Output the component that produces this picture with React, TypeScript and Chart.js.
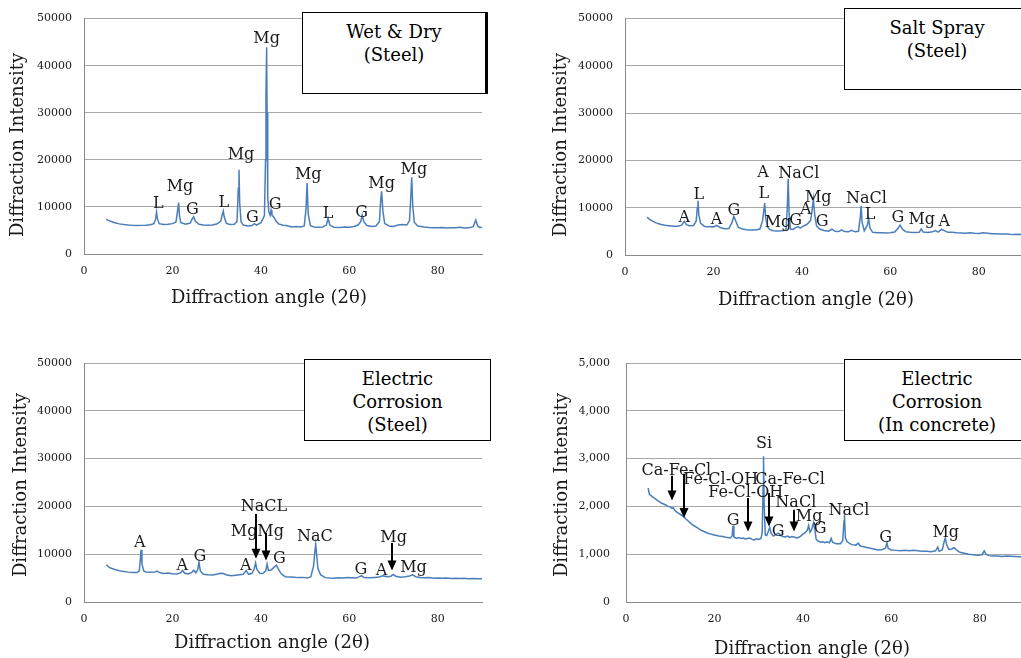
import React, { useEffect, useRef } from 'react';
import { Chart, registerables } from 'chart.js';

Chart.register(...registerables);

// ---------- tick labels ----------
const xTickLabels = ['0', '20', '40', '60', '80'];
const yTickLabelsSteel = ['0', '10000', '20000', '30000', '40000', '50000'];
const yTickLabelsConcrete = ['0', '1,000', '2,000', '3,000', '4,000', '5,000'];

// ---------- series: [angle 2θ, intensity] ----------
const wetDrySeries = [
  [5, 7400], [5.5, 7150], [6, 6950], [7, 6650], [8, 6400], [9, 6250], [10, 6150], [11, 6080], [12, 6050], [13, 6080],
  [14, 6120], [15, 6200], [15.8, 6450], [16.2, 7400], [16.4, 8900], [16.6, 7500], [17, 6450], [18, 6250], [19, 6300], [20, 6450],
  [20.8, 6800], [21.2, 9500], [21.4, 10900], [21.6, 8000], [21.9, 6650], [23, 6350], [24, 6550], [24.5, 7500], [24.8, 7900], [25.2, 6950],
  [26, 6300], [27, 6150], [28, 6100], [29, 6150], [30, 6350], [30.9, 6950], [31.3, 8500], [31.5, 9100], [31.7, 7900], [32.2, 6500],
  [33, 6250], [34, 6300], [34.6, 6900], [34.9, 14000], [35.05, 17900], [35.2, 11000], [35.5, 6900], [36, 6150], [37, 5950], [38, 6050],
  [38.5, 6450], [39, 6150], [40, 6650], [40.5, 7500], [40.8, 8200], [41.05, 20000], [41.15, 34000], [41.3, 43900], [41.4, 30000], [41.55, 12000],
  [41.8, 9000], [42.1, 8200], [42.3, 9300], [42.5, 8300], [43, 7700], [43.5, 6900], [44, 6400], [45, 6100], [46, 6000], [47, 5750],
  [48, 5850], [49, 5750], [49.8, 5950], [50.2, 9500], [50.45, 15100], [50.7, 8500], [51.2, 6000], [52, 5750], [53, 5700], [54, 5750],
  [54.8, 6150], [55.2, 7550], [55.6, 6150], [56.5, 5700], [58, 5650], [59, 5750], [60, 5700], [61, 5850], [62, 6150], [62.6, 6900],
  [62.9, 8250], [63.3, 6800], [64, 6050], [65, 5850], [66, 5950], [66.8, 6850], [67.1, 11500], [67.3, 13300], [67.6, 9000], [68, 6450],
  [69, 5950], [70, 5850], [71, 6150], [72, 6250], [73, 6150], [73.6, 7100], [73.9, 12000], [74.1, 16300], [74.35, 10000], [74.7, 6700],
  [75.5, 5950], [77, 5750], [78, 5650], [79, 5600], [80, 5550], [81, 5650], [82, 5500], [83, 5550], [84, 5600], [85, 5700],
  [86, 5500], [87, 5550], [88, 5800], [88.6, 7200], [89, 6000], [89.5, 5600], [90, 5750],
];

const saltSpraySeries = [
  [5, 8000], [5.5, 7600], [6, 7250], [7, 6800], [8, 6500], [9, 6300], [10, 6200], [11, 6100], [12, 6100], [12.8, 6300],
  [13.4, 7100], [13.9, 6400], [14.5, 6200], [15.5, 6250], [16.1, 7200], [16.35, 10000], [16.5, 11500], [16.7, 8500], [17.1, 6700], [18, 6050],
  [19, 6000], [20, 5950], [20.7, 6250], [21.5, 5800], [22.5, 5550], [23.5, 5600], [24.2, 6900], [24.6, 8200], [25, 7300], [25.6, 5900],
  [26.5, 5500], [27.5, 5350], [28.5, 5280], [29.5, 5300], [30.5, 5500], [31.1, 7200], [31.4, 9500], [31.6, 11000], [31.8, 8000], [32.2, 6000],
  [32.7, 5400], [33.5, 5150], [34.5, 5100], [35.5, 5150], [36.4, 5250], [36.7, 10000], [36.9, 16100], [37.1, 9000], [37.4, 5500], [38, 5400],
  [38.6, 5800], [39.1, 6000], [39.6, 5700], [40.3, 6100], [41, 6400], [41.6, 6900], [42, 7400], [42.3, 9500], [42.6, 11800], [42.9, 8500],
  [43.3, 6200], [44, 5500], [45, 5200], [46, 5050], [46.8, 5450], [47.5, 5000], [48.3, 4950], [49, 5300], [49.6, 4950], [50.5, 4900],
  [51.2, 5200], [52, 4900], [52.8, 5000], [53.2, 8000], [53.4, 10400], [53.6, 7000], [54.1, 5100], [54.8, 6300], [55.1, 7700], [55.4, 5700],
  [56, 4800], [57, 4700], [58, 4720], [59, 4650], [60, 4700], [61, 4850], [61.8, 5700], [62.2, 6300], [62.8, 5400], [63.5, 4900],
  [64.5, 4800], [65.5, 4750], [66.5, 4800], [67, 5500], [67.4, 4850], [68.5, 4750], [69.5, 4900], [70.2, 5150], [70.8, 4850], [71.6, 5400],
  [72.3, 5100], [73, 4800], [74, 4800], [75, 4700], [76, 4650], [77, 4600], [78, 4700], [79, 4600], [80, 4550], [81, 4700],
  [82, 4600], [83, 4500], [84, 4480], [85, 4420], [86, 4450], [87, 4380], [88, 4350], [89, 4400], [90, 4350],
];

const electricSteelSeries = [
  [5, 7800], [5.5, 7400], [6, 7100], [7, 6800], [8, 6550], [9, 6400], [10, 6250], [11, 6150], [12, 6150], [12.5, 6500],
  [12.75, 9000], [12.9, 10900], [13.1, 8000], [13.5, 6500], [14, 6250], [15, 6200], [16, 6250], [16.5, 6450], [17.2, 6100], [18, 5950],
  [19, 6050], [20, 5900], [21, 5850], [21.8, 6100], [22.3, 6600], [22.8, 6000], [23.6, 5850], [24.4, 6200], [24.8, 6650], [25.3, 6100],
  [25.7, 6800], [26, 8300], [26.3, 6500], [27, 5800], [28, 5700], [29, 5650], [30, 5800], [30.8, 6000], [31.5, 5950], [32.3, 5650],
  [33.3, 5500], [34.3, 5600], [35.2, 5700], [36, 5800], [36.7, 6600], [37.2, 5800], [38, 6000], [38.5, 7000], [38.8, 8150], [39.1, 6800],
  [39.8, 5950], [40.5, 6000], [41.1, 6500], [41.4, 7950], [41.7, 6600], [42.3, 6700], [42.9, 7200], [43.5, 7700], [44, 6800], [44.6, 5900],
  [45.5, 5300], [46.5, 5250], [47.5, 5200], [48.5, 5100], [49.5, 5150], [50.5, 5000], [51.3, 5300], [51.9, 7500], [52.2, 10500], [52.4, 12100],
  [52.6, 10000], [52.9, 7000], [53.5, 5700], [54.5, 5100], [55.5, 5000], [56.5, 4950], [57.5, 5050], [58.5, 5000], [59.5, 5100], [60.5, 5050],
  [61.5, 5000], [62.3, 5300], [62.8, 5500], [63.3, 5100], [64.5, 5050], [65.7, 5150], [66.7, 5250], [67.6, 5500], [68.5, 5300], [69.4, 5400],
  [69.9, 5750], [70.5, 5400], [71.6, 5200], [72.6, 5300], [73.6, 5450], [74.3, 5700], [75, 5300], [76, 5150], [77, 5050], [78, 5100],
  [79, 4950], [80, 5000], [81, 4950], [82, 5000], [83, 4900], [84, 4950], [85, 4900], [86, 4950], [87, 4850], [88, 4900],
  [89, 4850], [90, 4880],
];

const electricConcreteSeries = [
  [5, 2385], [5.3, 2250], [5.6, 2230], [6, 2200], [6.5, 2170], [7, 2130], [7.5, 2100], [8, 2070], [8.5, 2050], [9, 2030],
  [9.5, 2000], [10, 1990], [10.4, 1960], [10.7, 1970], [11, 1920], [11.5, 1880], [12, 1850], [12.5, 1820], [13, 1790], [13.5, 1740],
  [14, 1700], [14.5, 1660], [15, 1620], [15.5, 1590], [16, 1560], [16.5, 1530], [17, 1500], [17.5, 1480], [18, 1460], [18.5, 1440],
  [19, 1430], [19.5, 1410], [20, 1400], [21, 1380], [22, 1370], [22.5, 1355], [23, 1350], [23.6, 1340], [24, 1380], [24.2, 1600],
  [24.4, 1360], [25, 1330], [25.5, 1350], [26, 1330], [26.5, 1340], [27, 1320], [27.5, 1330], [28, 1340], [28.5, 1310], [29, 1300],
  [29.5, 1320], [30, 1310], [30.5, 1330], [30.8, 1450], [31, 2400], [31.1, 3050], [31.25, 2000], [31.5, 1400], [31.8, 1390], [32.2, 1480],
  [32.5, 1560], [32.8, 1440], [33.3, 1380], [34, 1420], [34.5, 1440], [35, 1390], [35.5, 1370], [36, 1360], [36.5, 1380], [37, 1350],
  [37.5, 1370], [38, 1360], [38.5, 1340], [39, 1350], [39.5, 1380], [40, 1420], [40.5, 1450], [41, 1500], [41.3, 1600], [41.6, 1460],
  [42, 1520], [42.4, 1660], [42.7, 1520], [43, 1310], [43.5, 1270], [44, 1250], [44.5, 1260], [45, 1240], [45.5, 1260], [46, 1240],
  [46.4, 1330], [46.7, 1250], [47.5, 1220], [48.5, 1220], [49, 1280], [49.3, 1700], [49.4, 1830], [49.6, 1350], [50, 1260], [51, 1200],
  [52, 1190], [52.5, 1230], [53, 1170], [54, 1150], [55, 1130], [56, 1110], [57, 1090], [58, 1100], [58.7, 1130], [59, 1240],
  [59.3, 1120], [60, 1090], [61, 1080], [62, 1070], [63, 1080], [64, 1070], [65, 1080], [66, 1070], [67, 1060], [68, 1060],
  [69, 1050], [70, 1070], [70.5, 1150], [70.8, 1060], [71.5, 1090], [72, 1280], [72.2, 1340], [72.5, 1200], [73, 1100], [73.7, 1110],
  [74.2, 1140], [74.7, 1090], [75.5, 1040], [76.5, 1020], [77.5, 1000], [78.5, 990], [79.5, 980], [80.5, 990], [81, 1070], [81.4, 1000],
  [82, 970], [83, 960], [84, 960], [85, 950], [86, 960], [87, 955], [88, 950], [89, 945], [90, 940],
];

// ---------- peak labels: [text, angle, intensity] ----------
const wetDryPeakLabels: [string, number, number][] = [
  ['Mg', 41.3, 45650], ['Mg', 35.5, 20980], ['Mg', 21.7, 14180], ['L', 16.8, 10550], ['G', 24.5, 9440],
  ['L', 31.6, 10910], ['G', 38.1, 7680], ['G', 43.2, 10490], ['Mg', 50.7, 16850], ['L', 55.2, 8450],
  ['G', 62.8, 8730], ['Mg', 67.3, 14900], ['Mg', 74.6, 17830],
];
const saltSprayPeakLabels: [string, number, number][] = [
  ['A', 13.4, 7900], ['L', 16.7, 12740], ['A', 20.7, 7340], ['G', 24.6, 9410], ['A', 31.2, 17380],
  ['L', 31.4, 12880], ['NaCl', 39.3, 17170], ['Mg', 34.6, 6780], ['G', 38.6, 7190], ['A', 40.9, 9620],
  ['Mg', 43.7, 12180], ['G', 44.6, 6980], ['NaCl', 54.6, 11840], ['L', 55.4, 8580], ['G', 61.7, 7900],
  ['Mg', 67.1, 7340], ['A', 72.2, 6980],
];
const electricSteelPeakLabels: [string, number, number][] = [
  ['A', 12.6, 12340], ['A', 22.2, 7660], ['G', 26.2, 9540], ['A', 36.6, 7660], ['NaCL', 40.7, 19870],
  ['Mg', 36.2, 14770], ['Mg', 42.2, 14770], ['G', 44.2, 8990], ['NaC', 52.2, 13600], ['Mg', 70.0, 13390],
  ['G', 62.6, 6760], ['A', 67.3, 6610], ['Mg', 74.5, 7240],
];
const electricConcretePeakLabels: [string, number, number][] = [
  ['Si', 31.2, 3305], ['Ca-Fe-Cl', 11.4, 2747], ['Fe-Cl-OH', 21.4, 2558], ['Ca-Fe-Cl', 37.1, 2558],
  ['Fe-Cl-OH', 27.1, 2280], ['NaCl', 38.4, 2084], ['Mg', 41.4, 1791], ['G', 24.2, 1707], ['G', 34.4, 1477],
  ['G', 43.9, 1527], ['NaCl', 50.4, 1910], ['G', 58.7, 1339], ['Mg', 72.3, 1456],
];

// ---------- arrows: [angle, from intensity, to intensity] ----------
const electricSteelArrows: [number, number, number][] = [
  [38.8, 18400, 9060], [41.1, 14430, 8700], [69.7, 12340, 6610],
];
const electricConcreteArrows: [number, number, number][] = [
  [10.3, 2642, 2125], [13.1, 2684, 1757], [27.7, 2176, 1477], [32.4, 2280, 1582], [38.0, 1931, 1477],
];

const FONT = '"DejaVu Serif", serif';
const TEXT = '#1a1a1a';
const LINE = '#4a7ebb';
const GRID = '#a8a8a8';
const AXIS = '#8a8a8a';

type Panel = {
  canvas: { left: number; top: number; w: number; h: number };
  area: { left: number; right: number; top: number; bottom: number };
  series: number[][];
  yMax: number;
  yStep: number;
  yTicks: string[];
  yTickPad: number;
  labels: [string, number, number][];
  arrows: [number, number, number][];
  xTitle: [number, number];
  yTitle: [number, number];
  box: { left: number; top: number; w: number; h: number; lines: string[]; heavyRight?: boolean };
};

const panels: Panel[] = [
  {
    canvas: { left: 0, top: 0, w: 510, h: 320 },
    area: { left: 84, right: 482, top: 16, bottom: 254 },
    series: wetDrySeries, yMax: 50000, yStep: 10000, yTicks: yTickLabelsSteel, yTickPad: 12,
    labels: wetDryPeakLabels, arrows: [],
    xTitle: [269, 298], yTitle: [18, 145],
    box: { left: 302, top: 12, w: 186, h: 82, lines: ['Wet & Dry', '(Steel)'], heavyRight: true },
  },
  {
    canvas: { left: 510, top: 0, w: 520, h: 320 },
    area: { left: 115, right: 513, top: 15, bottom: 255 },
    series: saltSpraySeries, yMax: 50000, yStep: 10000, yTicks: yTickLabelsSteel, yTickPad: 12,
    labels: saltSprayPeakLabels, arrows: [],
    xTitle: [306, 300], yTitle: [51, 145],
    box: { left: 844, top: 8, w: 186, h: 82, lines: ['Salt Spray', '(Steel)'] },
  },
  {
    canvas: { left: 0, top: 330, w: 510, h: 328 },
    area: { left: 84, right: 482, top: 33, bottom: 272 },
    series: electricSteelSeries, yMax: 50000, yStep: 10000, yTicks: yTickLabelsSteel, yTickPad: 12,
    labels: electricSteelPeakLabels, arrows: electricSteelArrows,
    xTitle: [272, 313], yTitle: [21, 155],
    box: { left: 304, top: 359, w: 187, h: 82, lines: ['Electric', 'Corrosion', '(Steel)'] },
  },
  {
    canvas: { left: 510, top: 330, w: 520, h: 340 },
    area: { left: 116, right: 514, top: 33, bottom: 272 },
    series: electricConcreteSeries, yMax: 5000, yStep: 1000, yTicks: yTickLabelsConcrete, yTickPad: 16,
    labels: electricConcretePeakLabels, arrows: electricConcreteArrows,
    xTitle: [302, 319], yTitle: [52, 155],
    box: { left: 844, top: 359, w: 186, h: 82, lines: ['Electric', 'Corrosion', '(In concrete)'] },
  },
];

function PanelChart({ p }: { p: Panel }) {
  const ref = useRef<HTMLCanvasElement | null>(null);
  useEffect(() => {
    if (!ref.current) return;
    const { canvas, area } = p;
    const overlay = {
      id: 'overlay',
      afterDatasetsDraw(chart: any) {
        const { ctx } = chart;
        const xs = chart.scales.x;
        const ys = chart.scales.y;
        ctx.save();
        ctx.fillStyle = TEXT;
        ctx.font = `16px ${FONT}`;
        ctx.textAlign = 'center';
        ctx.textBaseline = 'middle';
        p.labels.forEach(([t, a, v]) => {
          ctx.fillText(t, xs.getPixelForValue(a), ys.getPixelForValue(v));
        });
        ctx.strokeStyle = '#000';
        ctx.fillStyle = '#000';
        ctx.lineWidth = 2;
        p.arrows.forEach(([a, v0, v1]) => {
          const x = Math.round(xs.getPixelForValue(a));
          const y0 = ys.getPixelForValue(v0);
          const y1 = ys.getPixelForValue(v1);
          ctx.beginPath();
          ctx.moveTo(x, y0);
          ctx.lineTo(x, y1 - 8);
          ctx.stroke();
          ctx.beginPath();
          ctx.moveTo(x - 4.5, y1 - 10);
          ctx.lineTo(x + 4.5, y1 - 10);
          ctx.lineTo(x, y1);
          ctx.closePath();
          ctx.fill();
        });
        ctx.restore();
      },
      afterDraw(chart: any) {
        const { ctx } = chart;
        ctx.save();
        ctx.fillStyle = TEXT;
        ctx.font = `18px ${FONT}`;
        ctx.textAlign = 'center';
        ctx.textBaseline = 'middle';
        ctx.fillText('Diffraction angle (2θ)', p.xTitle[0], p.xTitle[1]);
        ctx.translate(p.yTitle[0], p.yTitle[1]);
        ctx.rotate(-Math.PI / 2);
        ctx.fillText('Diffraction Intensity', 0, 0);
        ctx.restore();
      },
    };
    const chart = new Chart(ref.current, {
      type: 'line',
      data: {
        datasets: [
          {
            data: p.series.map(([a, v]) => ({ x: a, y: v })),
            borderColor: LINE,
            borderWidth: 1.5,
            pointRadius: 0,
            fill: false,
            tension: 0,
          },
        ],
      },
      options: {
        animation: false,
        responsive: false,
        events: [],
        layout: { padding: { left: 0, top: area.top, right: canvas.w - area.right, bottom: 0 } },
        plugins: { legend: { display: false }, tooltip: { enabled: false } },
        scales: {
          x: {
            type: 'linear',
            min: 0,
            max: 90,
            afterFit: (s: any) => { s.height = canvas.h - area.bottom; },
            grid: { display: false, drawTicks: false, tickLength: 0 },
            border: { display: true, color: AXIS, width: 1 },
            ticks: {
              stepSize: 20,
              includeBounds: false,
              padding: 11,
              maxRotation: 0,
              autoSkip: false,
              color: TEXT,
              font: { family: FONT, size: 11 },
              callback: (v: any) => xTickLabels[Math.round(Number(v) / 20)] ?? '',
            },
          },
          y: {
            type: 'linear',
            min: 0,
            max: p.yMax,
            afterFit: (s: any) => { s.width = area.left; },
            grid: { color: GRID, drawTicks: false, tickLength: 0, lineWidth: 1 },
            border: { display: true, color: AXIS, width: 1 },
            ticks: {
              stepSize: p.yStep,
              padding: p.yTickPad,
              color: TEXT,
              font: { family: FONT, size: 11 },
              callback: (v: any) => p.yTicks[Math.round(Number(v) / p.yStep)] ?? '',
            },
          },
        },
      } as any,
      plugins: [overlay],
    });
    return () => chart.destroy();
  }, [p]);

  const b = p.box;
  return (
    <>
      <canvas
        ref={ref}
        width={p.canvas.w}
        height={p.canvas.h}
        style={{ position: 'absolute', left: p.canvas.left, top: p.canvas.top, width: p.canvas.w, height: p.canvas.h }}
      />
      <div
        style={{
          position: 'absolute',
          left: b.left,
          top: b.top,
          width: b.w,
          height: b.h,
          boxSizing: 'border-box',
          border: '1.5px solid #000',
          borderRight: b.heavyRight ? '3px solid #000' : '1.5px solid #000',
          background: '#fff',
          fontFamily: FONT,
          fontSize: 18,
          lineHeight: '23px',
          paddingTop: 7,
          textAlign: 'center',
          color: '#000',
        }}
      >
        {b.lines.map((l, i) => (
          <div key={i}>{l}</div>
        ))}
      </div>
    </>
  );
}

export default function App() {
  return (
    <div
      style={{
        position: 'absolute',
        left: 0,
        top: 0,
        width: 1021,
        height: 658,
        overflow: 'hidden',
        background: '#fff',
      }}
    >
      {panels.map((p, i) => (
        <PanelChart key={i} p={p} />
      ))}
    </div>
  );
}
